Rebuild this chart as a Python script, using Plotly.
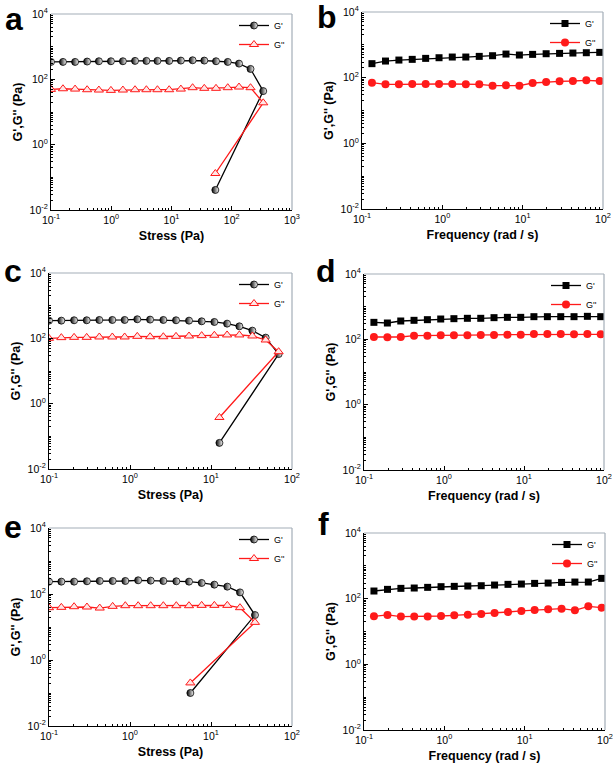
import plotly.graph_objects as go

# ---------------- data ----------------
# Panel a (stress sweep)
a_stress = [0.1, 0.158, 0.251, 0.398, 0.623, 0.987, 1.56, 2.48, 3.83, 5.84, 9.15, 14.3, 22.4, 35.0, 54.8, 85.8, 132, 205, 333, 53.4]
a_gp = [341, 341, 341, 350, 358, 358, 358, 367, 367, 367, 367, 375, 384, 375, 358, 341, 303, 208, 43.7, 0.041]
a_gpp = [49.2, 51.5, 50.3, 48.1, 47.0, 45.9, 47.0, 48.1, 48.1, 48.1, 48.1, 50.3, 55.5, 53.0, 53.0, 55.5, 58.1, 55.5, 19.1, 0.131]

# Panel c (stress sweep)
c_stress = [0.1, 0.142, 0.204, 0.292, 0.418, 0.605, 0.859, 1.23, 1.77, 2.58, 3.70, 5.35, 7.67, 11.0, 15.8, 22.4, 32.4, 47.3, 68.4, 12.7]
c_gp = [348, 348, 357, 357, 365, 365, 365, 383, 374, 365, 357, 348, 332, 317, 282, 233, 172, 105, 33, 0.063]
c_gpp = [100, 105, 107, 107, 110, 110, 110, 115, 112, 112, 115, 118, 121, 124, 127, 127, 118, 89, 39, 0.378]

# Panel e (stress sweep)
e_stress = [0.1, 0.142, 0.204, 0.294, 0.423, 0.611, 0.875, 1.26, 1.80, 2.58, 3.73, 5.35, 7.67, 11.0, 15.9, 22.8, 34.9, 5.56]
e_gp = [237, 237, 237, 243, 248, 248, 248, 260, 254, 248, 243, 237, 216, 192, 167, 112, 23, 0.1]
e_gpp = [38.5, 39.4, 41.2, 40.3, 37.5, 42.2, 44.2, 44.2, 44.2, 44.2, 44.2, 44.2, 45.2, 45.2, 45.2, 38.5, 13.8, 0.202]

# Panels b, d, f (frequency sweep)
freq = [0.133, 0.196, 0.288, 0.422, 0.62, 0.91, 1.33, 1.96, 2.88, 4.22, 6.2, 9.1, 13.3, 19.6, 28.8, 42.2, 62, 91]
b_gp = [267, 321, 344, 361, 387, 405, 425, 425, 445, 466, 524, 489, 512, 536, 549, 562, 575, 589]
b_gpp = [70.5, 62.7, 62.7, 64.2, 64.2, 64.2, 64.2, 62.7, 62.7, 57.2, 58.5, 57.2, 68.8, 73.9, 77.4, 79.2, 83.0, 79.2]
d_gp = [331, 316, 364, 382, 400, 419, 429, 440, 440, 461, 471, 471, 494, 494, 494, 494, 506, 494]
d_gpp = [118, 115, 118, 129, 129, 133, 133, 133, 136, 136, 139, 139, 146, 146, 146, 142, 146, 142]
f_gp = [171, 192, 206, 211, 221, 232, 237, 243, 248, 260, 273, 279, 292, 299, 313, 321, 321, 415]
f_gpp = [29.0, 31.9, 28.4, 28.4, 28.4, 29.7, 31.1, 32.6, 34.2, 36.7, 39.3, 42.2, 45.3, 47.4, 49.7, 44.2, 58.5, 53.2]

panel_letters = ["a", "b", "c", "d", "e", "f"]
series_names = ["G'", "G''"]
stress_title = "Stress (Pa)"
freq_title = "Frequency (rad / s)"
y_title = "G',G'' (Pa)"

y_tickvals = [1e-2, 1e0, 1e2, 1e4]
y_ticktext = ["10<sup>-2</sup>", "10<sup>0</sup>", "10<sup>2</sup>", "10<sup>4</sup>"]
xa_tickvals = [1e-1, 1e0, 1e1, 1e2, 1e3]
xa_ticktext = ["10<sup>-1</sup>", "10<sup>0</sup>", "10<sup>1</sup>", "10<sup>2</sup>", "10<sup>3</sup>"]
x_tickvals = [1e-1, 1e0, 1e1, 1e2]
x_ticktext = ["10<sup>-1</sup>", "10<sup>0</sup>", "10<sup>1</sup>", "10<sup>2</sup>"]

# ---------------- layout geometry (pixels of 614x777 canvas) ----------------
W, H = 614, 777
boxes = {  # left, right, top, bottom
    1: (51, 292, 14, 210),
    2: (362, 603, 12, 209),
    3: (49, 292, 273, 469),
    4: (364, 604, 274, 470),
    5: (49, 292, 528, 726),
    6: (364, 605, 533, 730),
}

FONT = "Liberation Sans, Arial, sans-serif"
RED = "#ff1a1a"
FRAME = "#a3adb8"

fig = go.Figure()

stress_sets = {1: (a_stress, a_gp, a_gpp), 3: (c_stress, c_gp, c_gpp), 5: (e_stress, e_gp, e_gpp)}
freq_sets = {2: (freq, b_gp, b_gpp), 4: (freq, d_gp, d_gpp), 6: (freq, f_gp, f_gpp)}

for i in range(1, 7):
    xa = "x" if i == 1 else f"x{i}"
    ya = "y" if i == 1 else f"y{i}"
    lg = "legend" if i == 1 else f"legend{i}"
    if i in stress_sets:
        xs, gp, gpp = stress_sets[i]
        fig.add_trace(go.Scatter(
            x=xs, y=gp, name=series_names[0], mode="lines+markers",
            line=dict(color="black", width=1.3),
            marker=dict(symbol="circle", size=7, color="black",
                        gradient=dict(type="horizontal", color="white"),
                        line=dict(color="black", width=0.8)),
            xaxis=xa, yaxis=ya, legend=lg))
        fig.add_trace(go.Scatter(
            x=xs, y=gpp, name=series_names[1], mode="lines+markers",
            line=dict(color=RED, width=1.3),
            marker=dict(symbol="triangle-up", size=8, color="#ffe6e6",
                        line=dict(color=RED, width=1)),
            xaxis=xa, yaxis=ya, legend=lg))
    else:
        xs, gp, gpp = freq_sets[i]
        fig.add_trace(go.Scatter(
            x=xs, y=gp, name=series_names[0], mode="lines+markers",
            line=dict(color="black", width=1.3),
            marker=dict(symbol="square", size=7, color="black"),
            xaxis=xa, yaxis=ya, legend=lg))
        fig.add_trace(go.Scatter(
            x=xs, y=gpp, name=series_names[1], mode="lines+markers",
            line=dict(color=RED, width=1.3),
            marker=dict(symbol="circle", size=8, color=RED),
            xaxis=xa, yaxis=ya, legend=lg))

layout = dict(
    width=W, height=H, autosize=False,
    margin=dict(l=0, r=0, t=0, b=0, autoexpand=False),
    paper_bgcolor="white", plot_bgcolor="white",
    font=dict(family=FONT, color="black", size=10),
    shapes=[], annotations=[],
)

for i in range(1, 7):
    l, r, t, b = boxes[i]
    xkey = "xaxis" if i == 1 else f"xaxis{i}"
    ykey = "yaxis" if i == 1 else f"yaxis{i}"
    xa = "x" if i == 1 else f"x{i}"
    ya = "y" if i == 1 else f"y{i}"
    is_stress = i in (1, 3, 5)
    xr = [-1, 3] if i == 1 else [-1, 2]
    layout[xkey] = dict(
        type="log", range=xr, domain=[l / W, r / W], anchor=ya, automargin=False,
        showline=True, linecolor="black", linewidth=1.2, showgrid=False, zeroline=False,
        ticks="inside", ticklen=4, tickwidth=1, tickcolor="black",
        tickmode="array",
        tickvals=xa_tickvals if i == 1 else x_tickvals,
        ticktext=xa_ticktext if i == 1 else x_ticktext,
        tickfont=dict(size=10.5, family=FONT),
        minor=dict(ticks="inside", ticklen=2, tickcolor="black", dtick="D1", showgrid=False),
        title=dict(text=stress_title if is_stress else freq_title,
                   font=dict(size=12.5, family=FONT, weight="bold"), standoff=6),
    )
    layout[ykey] = dict(
        type="log", range=[-2, 4], domain=[1 - b / H, 1 - t / H], anchor=xa, automargin=False,
        showline=True, linecolor="black", linewidth=1.2, showgrid=False, zeroline=False,
        ticks="inside", ticklen=4, tickwidth=1, tickcolor="black",
        tickmode="array", tickvals=y_tickvals, ticktext=y_ticktext,
        tickfont=dict(size=10.5, family=FONT),
        minor=dict(ticks="inside", ticklen=2, tickcolor="black", dtick="D1", showgrid=False),
        title=dict(text=y_title, font=dict(size=12.5, family=FONT, weight="bold"), standoff=4),
    )
    # gray top/right frame
    layout["shapes"].append(dict(type="line", xref=f"{xa} domain", yref=f"{ya} domain",
                                 x0=0, x1=1, y0=1, y1=1, line=dict(color=FRAME, width=1.2)))
    layout["shapes"].append(dict(type="line", xref=f"{xa} domain", yref=f"{ya} domain",
                                 x0=1, x1=1, y0=0, y1=1, line=dict(color=FRAME, width=1.2)))
    # legend
    lkey = "legend" if i == 1 else f"legend{i}"
    layout[lkey] = dict(
        x=(r - 2) / W, y=1 - (t - 3) / H, xanchor="right", yanchor="top",
        xref="paper", yref="paper",
        bgcolor="rgba(0,0,0,0)", borderwidth=0,
        font=dict(size=9, family=FONT), itemwidth=30, tracegroupgap=0,
    )

letter_pos = {1: (14, 19), 2: (327, 17), 3: (13, 271), 4: (326, 271), 5: (13, 527), 6: (323, 524)}
for i in range(1, 7):
    px, py = letter_pos[i]
    layout["annotations"].append(dict(
        text=panel_letters[i - 1], x=px / W, y=1 - py / H, xref="paper", yref="paper",
        showarrow=False, xanchor="center", yanchor="middle",
        font=dict(size=32, family=FONT, weight="bold", color="black")))

fig.update_layout(**layout)
fig.write_html("out.html", config={"displayModeBar": False},
               post_script="document.body.style.margin='0';document.body.style.overflow='hidden';")
